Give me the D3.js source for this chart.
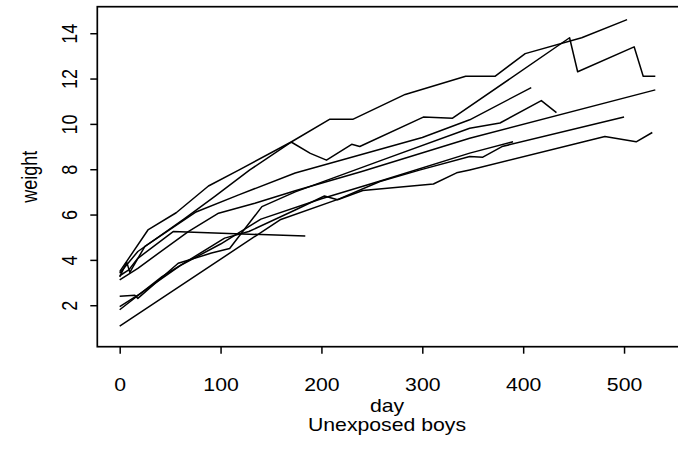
<!DOCTYPE html>
<html>
<head>
<meta charset="utf-8">
<script src="https://cdn.jsdelivr.net/npm/d3@7"></script>
<style>
  body { margin: 0; background: #fff; }
  svg { display: block; font-family: "Liberation Sans", Arial, Helvetica, sans-serif; }
</style>
</head>
<body>
<svg width="678" height="466"></svg>
<script>
// growth curves, one array of [day, weight] per boy
var boy1 = [[0,3.48],[28,5.32],[56,6.08],[88,7.26],[118,7.96],[170,9.2],[208,10.2],[231,10.2],[283,11.3],[343,12.1],[372,12.1],[402,13.1],[458,13.8],[503,14.6]];
var boy2 = [[0,3.41],[18,4.37],[65,5.84],[94,6.79],[129,7.97],[170,9.2],[189,8.7],[205,8.4],[230,9.1],[238,9.0],[301,10.3],[330,10.25],[446,13.8],[454,12.3],[510,13.4],[519,12.1],[531,12.1]];
var boy3 = [[0,3.3],[9,3.56],[18,4.07],[53,5.25],[184,5.05]];
var boy4 = [[0,3.12],[18,3.63],[68,5.25],[98,6.06],[134,6.5],[174,7.05],[240,7.9],[347,9.37],[531,11.5]];
var boy5 = [[0,3.25],[7,3.9],[10,3.45],[25,4.6],[75,6.1],[118,6.87],[174,7.83],[300,9.4],[347,10.18],[408,11.6]];
var boy6 = [[0,2.4],[15,2.44],[18,2.3],[58,3.85],[91,4.3],[109,4.5],[141,6.35],[174,7.0],[260,8.4],[347,9.81],[377,10.04],[418,11.03],[433,10.5]];
var boy7 = [[0,1.94],[20,2.5],[60,3.75],[100,4.7],[140,5.8],[200,6.7],[260,7.5],[347,8.71],[390,9.21]];
var boy8 = [[0,1.8],[42,3.26],[104,4.96],[128,5.25],[174,6.2],[203,6.82],[216,6.65],[241,7.06],[311,7.35],[334,7.84],[347,7.97],[481,9.44],[512,9.21],[528,9.62]];
var boy9 = [[0,1.08],[159,5.77],[217,6.68],[258,7.46],[298,7.97],[347,8.56],[360,8.53],[379,9.0],[500,10.3]];

var boys = [boy1, boy2, boy3, boy4, boy5, boy6, boy7, boy8, boy9];

var xTicks = [0, 100, 200, 300, 400, 500];
var yTicks = [2, 4, 6, 8, 10, 12, 14];

var svg = d3.select('svg');
var sx = 1.18; // text in the picture is a bit wider than tall

var x = d3.scaleLinear().domain([-22.2, 552.5]).range([97.3, 677]);
var y = d3.scaleLinear().domain([0.17, 15.17]).range([346.7, 6.7]);

var line = d3.line()
  .x(function(d){ return x(d[0]); })
  .y(function(d){ return y(d[1]); });

svg.selectAll('path.boy')
  .data(boys)
  .enter()
  .append('path')
    .attr('class', 'boy')
    .attr('d', line)
    .attr('fill', 'none')
    .attr('stroke', '#000')
    .attr('stroke-width', 1.5)
    .attr('stroke-linejoin', 'round');

// frame (right side runs off the picture)
svg.append('rect')
  .attr('x', 97.3)
  .attr('y', 6.7)
  .attr('width', 583)
  .attr('height', 340)
  .attr('fill', 'none')
  .attr('stroke', '#000')
  .attr('stroke-width', 1.7);

// x axis
var xAxis = svg.append('g')
  .attr('transform', 'translate(0,346.7)')
  .call(d3.axisBottom(x).tickValues(xTicks).tickSize(7).tickFormat(d3.format('d')));
xAxis.select('.domain').remove();
xAxis.selectAll('line').attr('stroke', '#000').attr('stroke-width', 1.5);
xAxis.selectAll('text')
  .attr('x', 0).attr('y', 0).attr('dy', 0)
  .attr('fill', '#000')
  .style('font-size', '18px')
  .attr('text-anchor', 'middle')
  .attr('transform', 'translate(0,44) scale(' + sx + ',1)');

// y axis
var yAxis = svg.append('g')
  .attr('transform', 'translate(97.3,0)')
  .call(d3.axisLeft(y).tickValues(yTicks).tickSize(7).tickFormat(d3.format('d')));
yAxis.select('.domain').remove();
yAxis.selectAll('line').attr('stroke', '#000').attr('stroke-width', 1.5);
yAxis.selectAll('text')
  .attr('x', 0).attr('y', 0).attr('dy', 0)
  .attr('fill', '#000')
  .style('font-size', '18px')
  .attr('text-anchor', 'middle')
  .attr('transform', 'translate(-20,0) scale(' + sx + ',1) rotate(-90)');

// axis titles
svg.append('text')
  .attr('transform', 'translate(387,412) scale(' + sx + ',1)')
  .attr('text-anchor', 'middle')
  .style('font-size', '18px')
  .text('day');

svg.append('text')
  .attr('transform', 'translate(387,431) scale(' + sx + ',1)')
  .attr('text-anchor', 'middle')
  .style('font-size', '18px')
  .text('Unexposed boys');

svg.append('text')
  .attr('transform', 'translate(37,176.7) scale(' + sx + ',1) rotate(-90)')
  .attr('text-anchor', 'middle')
  .style('font-size', '18px')
  .text('weight');
</script>
</body>
</html>
